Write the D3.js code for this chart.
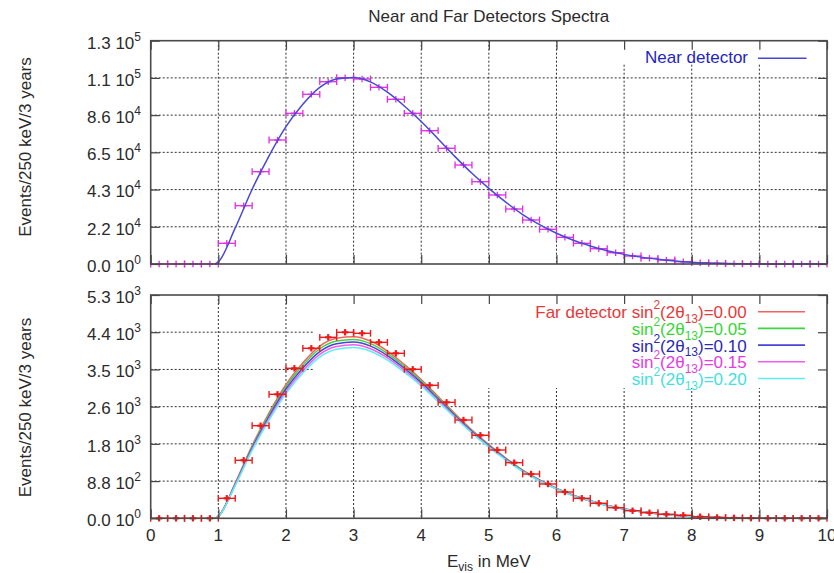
<!DOCTYPE html>
<html>
<head>
<meta charset="utf-8">
<script src="https://cdn.jsdelivr.net/npm/d3@7"></script>
<style>
  body { margin: 0; background: #fff; }
  svg { display: block; }
  text { font-family: "Liberation Sans", Arial, Helvetica, sans-serif; fill: #2b2b2b; }
</style>
</head>
<body>
<svg id="chart" width="834" height="573"></svg>
<script>
// ---- data -------------------------------------------------------------
// 250 keV bins of visible energy (bin centres, MeV)
const binCenters = [0.125, 0.375, 0.625, 0.875, 1.125, 1.375, 1.625, 1.875, 2.125, 2.375,
  2.625, 2.875, 3.125, 3.375, 3.625, 3.875, 4.125, 4.375, 4.625, 4.875,
  5.125, 5.375, 5.625, 5.875, 6.125, 6.375, 6.625, 6.875, 7.125, 7.375,
  7.625, 7.875, 8.125, 8.375, 8.625, 8.875, 9.125, 9.375, 9.625, 9.875];
const binHalfWidth = 0.125;

// simulated counts per bin, 3 years
const nearCounts = [0, 0, 0, 0, 12050, 33940, 53740, 72190, 87730, 98790,
  106130, 108460, 107700, 102870, 95880, 87730, 77600, 67360, 57640, 47910,
  40170, 32020, 25620, 20200, 15540, 12050, 8910, 6580, 4660, 3320,
  2330, 1340, 760, 400, 200, 80, 0, 0, 0, 0];
const farCounts = [0, 0, 0, 0, 475, 1377, 2198, 2943, 3560, 4035,
  4296, 4415, 4391, 4177, 3916, 3537, 3157, 2753, 2333, 1970,
  1621, 1320, 1051, 814, 624, 475, 356, 252, 180, 133,
  95, 71, 38, 20, 10, 4, 0, 0, 0, 0];

// expected spectra (MeV grid)
const curveEnergy = [0.95, 1.0, 1.25, 1.5, 1.75, 2.0, 2.25, 2.5, 2.75, 3.0,
  3.25, 3.5, 3.75, 4.0, 4.25, 4.5, 4.75, 5.0, 5.25, 5.5,
  5.75, 6.0, 6.25, 6.5, 6.75, 7.0, 7.25, 7.5, 7.75, 8.0,
  8.25, 8.5, 8.75, 9.0, 9.25, 9.5, 9.75, 10.0];
const nearSpectrum = [0, 1200, 21000, 43500, 63000, 80000, 93000, 102800, 107700, 108600,
  106000, 100000, 92000, 83000, 72800, 62500, 52800, 44000, 36000, 28800,
  22900, 17900, 13800, 10500, 7700, 5600, 4000, 2800, 1800, 1050,
  580, 300, 140, 50, 10, 0, 0, 0];
const farSpectrum000 = [0, 48, 834, 1727, 2501, 3176, 3692, 4089, 4276, 4311,
  4208, 3970, 3652, 3295, 2890, 2481, 2096, 1747, 1429, 1143,
  909, 711, 548, 417, 306, 222, 159, 111, 71, 42,
  23, 12, 6, 2, 0, 0, 0, 0];
const farSpectrum005 = [0, 47, 820, 1698, 2458, 3122, 3631, 4024, 4210, 4246,
  4147, 3916, 3606, 3257, 2860, 2457, 2077, 1733, 1418, 1135,
  903, 707, 545, 415, 305, 221, 158, 111, 71, 42,
  23, 12, 6, 2, 0, 0, 0, 0];
const farSpectrum010 = [0, 46, 806, 1668, 2416, 3068, 3570, 3958, 4143, 4182,
  4086, 3863, 3561, 3219, 2829, 2434, 2058, 1719, 1408, 1127,
  897, 702, 542, 413, 303, 220, 158, 110, 70, 42,
  23, 12, 6, 2, 0, 0, 0, 0];
const farSpectrum015 = [0, 46, 791, 1639, 2373, 3014, 3509, 3893, 4077, 4117,
  4025, 3809, 3515, 3181, 2799, 2410, 2039, 1705, 1397, 1119,
  891, 698, 539, 411, 302, 219, 157, 110, 70, 41,
  23, 12, 6, 2, 0, 0, 0, 0];
const farSpectrum020 = [0, 45, 777, 1610, 2331, 2960, 3448, 3827, 4011, 4052,
  3964, 3756, 3469, 3143, 2769, 2387, 2021, 1691, 1386, 1111,
  885, 694, 536, 409, 300, 218, 157, 109, 70, 41,
  23, 12, 6, 2, 0, 0, 0, 0];
const mixingValues = ["0.00", "0.05", "0.10", "0.15", "0.20"];

// axis ticks
const xTicks = [0, 1, 2, 3, 4, 5, 6, 7, 8, 9, 10];
const nearTicks = [0, 21667, 43333, 65000, 86667, 108333, 130000];
const nearTickMantissa = ["0.0", "2.2", "4.3", "6.5", "8.6", "1.1", "1.3"];
const nearTickExponent = ["0", "4", "4", "4", "4", "5", "5"];
const farTicks = [0, 883, 1767, 2650, 3533, 4417, 5300];
const farTickMantissa = ["0.0", "8.8", "1.8", "2.6", "3.5", "4.4", "5.3"];
const farTickExponent = ["0", "2", "3", "3", "3", "3", "3"];

// ---- drawing ----------------------------------------------------------
const svg = d3.select("#chart");
const FONT = 17, SMALL = 12;

const x = d3.scaleLinear().domain([0, 10]).range([150.7, 827]);
const yNear = d3.scaleLinear().domain([0, 130000]).range([264, 40.7]);
const yFar = d3.scaleLinear().domain([0, 5300]).range([518.3, 295]);

const farColors = ["#f26262", "#3fd43f", "#4545d6", "#f25cf2", "#5cf0f0"];
const farTextColors = ["#e63a3a", "#36d636", "#2a2ab4", "#e23ee2", "#44e0e0"];
const farSeries = [farSpectrum000, farSpectrum005, farSpectrum010, farSpectrum015, farSpectrum020];

// title
svg.append("text").attr("x", 488.8).attr("y", 21.5)
  .attr("text-anchor", "middle").style("font-size", FONT + "px")
  .text("Near and Far Detectors Spectra");

function drawFrame(y, ticks, mant, expo, keyBox, showXLabels, yLabelCenter) {
  const [yb, yt] = y.range();
  const g = svg.append("g");

  // grid
  const grid = g.append("g").attr("stroke", "#1a1a1a").attr("stroke-width", 1)
    .attr("stroke-dasharray", "2,2").attr("opacity", 0.9);
  grid.selectAll("line.v").data(xTicks.slice(1, -1)).join("line")
    .attr("x1", d => x(d)).attr("x2", d => x(d)).attr("y1", yt).attr("y2", yb);
  grid.selectAll("line.h").data(ticks.slice(1, -1)).join("line")
    .attr("x1", x(0)).attr("x2", x(10)).attr("y1", d => y(d)).attr("y2", d => y(d));

  // key area is kept clear of grid lines
  g.append("rect").attr("x", keyBox[0]).attr("y", yt).attr("width", x(10) - keyBox[0])
    .attr("height", keyBox[1] - yt).attr("fill", "#fff");

  // y tick labels with power-of-ten exponent
  const lab = g.append("g");
  ticks.forEach((t, i) => {
    const tx = lab.append("text").attr("x", 141).attr("y", y(t) + 7.8)
      .attr("text-anchor", "end").style("font-size", FONT + "px");
    tx.append("tspan").text(mant[i] + " 10");
    tx.append("tspan").attr("dy", -8).style("font-size", SMALL + "px").text(expo[i]);
  });

  if (showXLabels) {
    g.append("g").selectAll("text").data(xTicks).join("text")
      .attr("x", d => x(d)).attr("y", 541).attr("text-anchor", "middle")
      .style("font-size", FONT + "px").text(d => d);
  }

  // y label
  g.append("text")
    .attr("transform", `translate(31,${yLabelCenter}) rotate(-90)`)
    .attr("text-anchor", "middle").style("font-size", FONT + "px")
    .text("Events/250 keV/3 years");
  return g;
}

function drawTicksAndBorder(y, ticks) {
  const [yb, yt] = y.range();
  const g = svg.append("g");
  const tick = 9;
  const left = g.append("g").attr("transform", `translate(${x(0)},0)`)
    .call(d3.axisRight(y).tickValues(ticks).tickSize(tick).tickFormat(""));
  const right = g.append("g").attr("transform", `translate(${x(10)},0)`)
    .call(d3.axisLeft(y).tickValues(ticks).tickSize(tick).tickFormat(""));
  const bottom = g.append("g").attr("transform", `translate(0,${yb})`)
    .call(d3.axisTop(x).tickValues(xTicks).tickSize(tick).tickFormat(""));
  const top = g.append("g").attr("transform", `translate(0,${yt})`)
    .call(d3.axisBottom(x).tickValues(xTicks).tickSize(tick).tickFormat(""));
  [left, right, bottom, top].forEach(a => {
    a.select(".domain").remove();
    a.selectAll("line").attr("stroke", "#444").attr("stroke-width", 1.2);
  });
  g.append("rect").attr("x", x(0)).attr("y", yt).attr("width", x(10) - x(0))
    .attr("height", yb - yt).attr("fill", "none").attr("stroke", "#4a4a4a").attr("stroke-width", 1.6);
}

function drawPoints(y, counts, color, barW, markW) {
  const g = svg.append("g").attr("stroke", color).attr("fill", "none");
  const cap = 3.4, mark = 3.2;
  binCenters.forEach((c, i) => {
    const yy = y(counts[i]);
    const x0 = x(c - binHalfWidth), x1 = x(c + binHalfWidth), xc = x(c);
    g.append("line").attr("x1", x0).attr("x2", x1).attr("y1", yy).attr("y2", yy).attr("stroke-width", barW);
    g.append("line").attr("x1", x0).attr("x2", x0).attr("y1", yy - cap).attr("y2", yy + cap).attr("stroke-width", barW);
    g.append("line").attr("x1", x1).attr("x2", x1).attr("y1", yy - cap).attr("y2", yy + cap).attr("stroke-width", barW);
    g.append("line").attr("x1", xc).attr("x2", xc).attr("y1", yy - mark).attr("y2", yy + mark).attr("stroke-width", markW);
    g.append("line").attr("x1", xc - mark).attr("x2", xc + mark).attr("y1", yy).attr("y2", yy).attr("stroke-width", markW);
  });
}

function drawCurve(y, values, color) {
  const line = d3.line().x((d, i) => x(curveEnergy[i])).y(d => y(d)).curve(d3.curveMonotoneX);
  svg.append("path").datum(values).attr("d", line).attr("fill", "none")
    .attr("stroke", color).attr("stroke-width", 1.5);
}

// ---- near detector panel ----
drawFrame(yNear, nearTicks, nearTickMantissa, nearTickExponent, [580, 63], false, 147);
drawPoints(yNear, nearCounts, "#e22ce2", 1.3, 1.3);
drawCurve(yNear, nearSpectrum, "#4848d8");
drawTicksAndBorder(yNear, nearTicks);

svg.append("text").attr("x", 748).attr("y", 62.5).attr("text-anchor", "end")
  .style("font-size", FONT + "px").style("fill", "#2424c4").text("Near detector");
svg.append("line").attr("x1", 758).attr("x2", 806.5).attr("y1", 58.3).attr("y2", 58.3)
  .attr("stroke", "#4848d8").attr("stroke-width", 1.5);

// ---- far detector panel ----
drawFrame(yFar, farTicks, farTickMantissa, farTickExponent, [313, 388], true, 407.5);
farSeries.forEach((s, i) => drawCurve(yFar, s, farColors[i]));
drawPoints(yFar, farCounts, "#ee1a1a", 1.4, 2.2);
drawTicksAndBorder(yFar, farTicks);

// legend: one row per mixing value
const rowY = [311.7, 328.4, 345.1, 361.8, 378.5];
mixingValues.forEach((v, i) => {
  const t = svg.append("text").attr("x", 746.7).attr("y", rowY[i] + 6.6)
    .attr("text-anchor", "end").style("font-size", FONT + "px").style("fill", farTextColors[i]);
  t.append("tspan").text((i === 0 ? "Far detector " : "") + "sin");
  t.append("tspan").attr("dy", -9).style("font-size", SMALL + "px").text("2");
  t.append("tspan").attr("dy", 9).text("(2θ");
  t.append("tspan").attr("dy", 4.5).style("font-size", SMALL + "px").text("13");
  t.append("tspan").attr("dy", -4.5).text(")=" + v);
  svg.append("line").attr("x1", 758).attr("x2", 805).attr("y1", rowY[i]).attr("y2", rowY[i])
    .attr("stroke", farColors[i]).attr("stroke-width", 1.6);
});

// x axis title
const xt = svg.append("text").attr("x", x(5)).attr("y", 566.5).attr("text-anchor", "middle")
  .style("font-size", FONT + "px");
xt.append("tspan").text("E");
xt.append("tspan").attr("dy", 4.5).style("font-size", SMALL + "px").text("vis");
xt.append("tspan").attr("dy", -4.5).text(" in MeV");
</script>
</body>
</html>
